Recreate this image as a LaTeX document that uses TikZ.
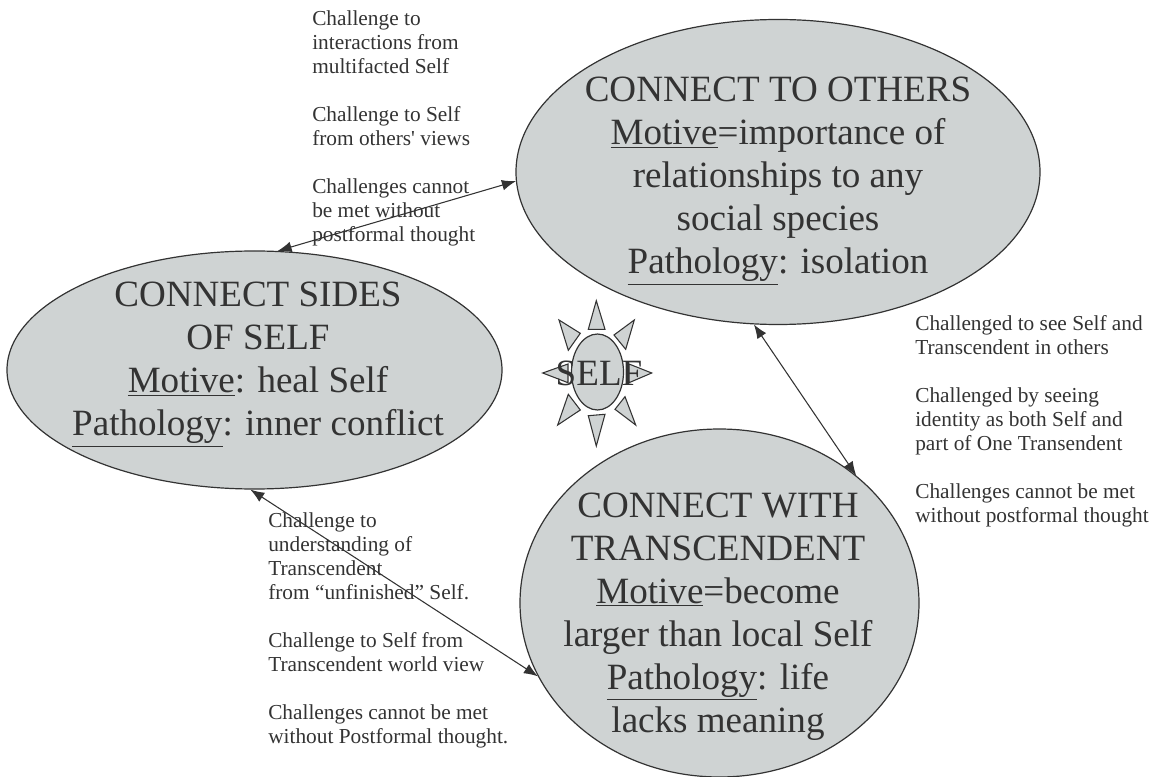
\documentclass[tikz,border=0pt]{standalone}
\usepackage{fontspec}
\setmainfont{Liberation Serif}[Ligatures=TeXOff]
\usetikzlibrary{shapes.geometric,arrows.meta}
\definecolor{fillgrey}{HTML}{CFD3D3}
\definecolor{inkgrey}{HTML}{333333}
\tikzset{
  bubble/.style={shape=ellipse, draw=inkgrey, fill=fillgrey, line width=0.9pt, inner sep=0pt},
  ray/.style={draw=inkgrey, fill=fillgrey, line width=0.8pt, line join=miter},
  bigtext/.style={align=center, text=inkgrey, inner sep=0pt, font=\fontsize{27.8}{32.25}\selectfont},
  smalltext/.style={align=left, anchor=north west, text=inkgrey, inner sep=0pt, font=\fontsize{16}{18}\selectfont},
  link/.style={{Latex[length=10.5pt,width=8pt]}-{Latex[length=10.5pt,width=8pt]}, draw=inkgrey, line width=0.8pt}
}
\begin{document}
\begin{tikzpicture}[x=0.75pt, y=-0.75pt]
\useasboundingbox (0,0) rectangle (1161,777);
\node[bubble, minimum width=393pt, minimum height=228.75pt](others) at (778,172){};
\node[bubble, minimum width=371.25pt, minimum height=178.5pt](sides) at (254.5,370){};
\node[bubble, minimum width=299.25pt, minimum height=261pt](transcendent) at (719.5,603){};
\node[bubble, minimum width=39pt, minimum height=57pt](self) at (597.5,372){};
% rays round the small ellipse
\draw[ray] (596.3,300.7) -- (588.3,329.3) -- (605,329.3) -- cycle;
\draw[ray] (634.3,320) -- (614,335) -- (625.7,349.3) -- cycle;
\draw[ray] (651.7,373) -- (629,364) -- (629,382.7) -- cycle;
\draw[ray] (635.7,425) -- (615,409.3) -- (625,396.7) -- cycle;
\draw[ray] (596.3,446) -- (588.3,415.7) -- (605,414.3) -- cycle;
\draw[ray] (557.7,425) -- (580.3,410) -- (568.3,394.3) -- cycle;
\draw[ray] (542.7,373) -- (568,364) -- (568,382.7) -- cycle;
\draw[ray] (559,320) -- (580.3,333.3) -- (568.3,350.3) -- cycle;
\node[bigtext](othersText) at (778,181){CONNECT TO OTHERS\\\underline{Motive}=importance of\\relationships to any\\social species\\\underline{Pathology}: isolation};
\node[bigtext](sidesText) at (258,364.5){CONNECT SIDES\\OF SELF\\\underline{Motive}: heal Self\\\underline{Pathology}: inner conflict};
\node[bigtext](transcendentText) at (718,616.5){CONNECT WITH\\TRANSCENDENT\\\underline{Motive}=become\\larger than local Self\\\underline{Pathology}: life\\lacks meaning};
\node[bigtext](selfText) at (599,373){SELF};
\node[smalltext](noteOthers) at (312,10.5){Challenge to\\interactions from\\multifacted Self\\[18pt]Challenge to Self\\from others' views\\[18pt]Challenges cannot\\be met without\\postformal thought};
\node[smalltext](noteRight) at (915,315){Challenged to see Self and\\Transcendent in others\\[18pt]Challenged by seeing\\identity as both Self and\\part of One Transendent\\[18pt]Challenges cannot be met\\without postformal thought};
\node[smalltext](noteSides) at (268,512.5){Challenge to\\understanding of\\Transcendent\\from “unfinished” Self.\\[18pt]Challenge to Self from\\Transcendent world view\\[18pt]Challenges cannot be met\\without Postformal thought.};
\path[link] (sides.79.2) -- (others.182);
\path[link] (others.261.3) -- (transcendent.43.8);
\path[link] (sides.268) -- (transcendent.202.7);
\end{tikzpicture}
\end{document}
